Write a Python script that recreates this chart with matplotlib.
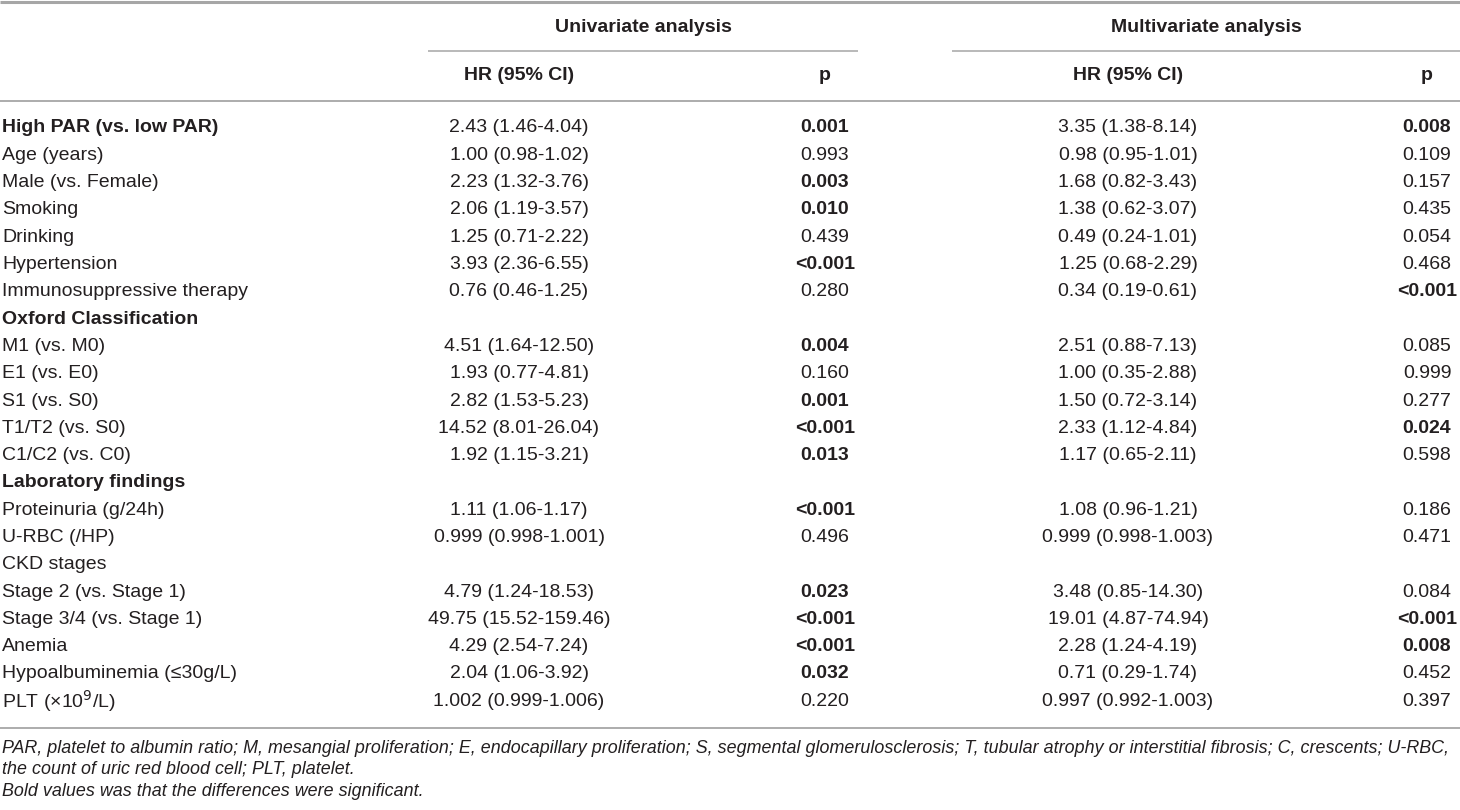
import matplotlib
matplotlib.use("Agg")
import matplotlib.pyplot as plt

plt.rcParams['font.family'] = ['Liberation Sans Narrow', 'Liberation Sans', 'DejaVu Sans']
plt.rcParams['mathtext.fontset'] = 'custom'
plt.rcParams['mathtext.rm'] = 'Liberation Sans Narrow'
plt.rcParams['mathtext.it'] = 'Liberation Sans Narrow:italic'

# table content
labels = [
    "High PAR (vs. low PAR)", "Age (years)", "Male (vs. Female)", "Smoking", "Drinking",
    "Hypertension", "Immunosuppressive therapy", "Oxford Classification",
    "M1 (vs. M0)", "E1 (vs. E0)", "S1 (vs. S0)", "T1/T2 (vs. S0)", "C1/C2 (vs. C0)",
    "Laboratory findings", "Proteinuria (g/24h)", "U-RBC (/HP)", "CKD stages",
    "Stage 2 (vs. Stage 1)", "Stage 3/4 (vs. Stage 1)", "Anemia",
    "Hypoalbuminemia (≤30g/L)", "PLT (×10$^{9}$/L)",
]
bold_labels = {"High PAR (vs. low PAR)", "Oxford Classification", "Laboratory findings"}

uni_hr = [
    "2.43 (1.46-4.04)", "1.00 (0.98-1.02)", "2.23 (1.32-3.76)", "2.06 (1.19-3.57)",
    "1.25 (0.71-2.22)", "3.93 (2.36-6.55)", "0.76 (0.46-1.25)", "",
    "4.51 (1.64-12.50)", "1.93 (0.77-4.81)", "2.82 (1.53-5.23)", "14.52 (8.01-26.04)",
    "1.92 (1.15-3.21)", "", "1.11 (1.06-1.17)", "0.999 (0.998-1.001)", "",
    "4.79 (1.24-18.53)", "49.75 (15.52-159.46)", "4.29 (2.54-7.24)",
    "2.04 (1.06-3.92)", "1.002 (0.999-1.006)",
]
uni_p = [
    "0.001", "0.993", "0.003", "0.010", "0.439", "<0.001", "0.280", "",
    "0.004", "0.160", "0.001", "<0.001", "0.013", "", "<0.001", "0.496", "",
    "0.023", "<0.001", "<0.001", "0.032", "0.220",
]
uni_sig = [1, 0, 1, 1, 0, 1, 0, 0, 1, 0, 1, 1, 1, 0, 1, 0, 0, 1, 1, 1, 1, 0]

multi_hr = [
    "3.35 (1.38-8.14)", "0.98 (0.95-1.01)", "1.68 (0.82-3.43)", "1.38 (0.62-3.07)",
    "0.49 (0.24-1.01)", "1.25 (0.68-2.29)", "0.34 (0.19-0.61)", "",
    "2.51 (0.88-7.13)", "1.00 (0.35-2.88)", "1.50 (0.72-3.14)", "2.33 (1.12-4.84)",
    "1.17 (0.65-2.11)", "", "1.08 (0.96-1.21)", "0.999 (0.998-1.003)", "",
    "3.48 (0.85-14.30)", "19.01 (4.87-74.94)", "2.28 (1.24-4.19)",
    "0.71 (0.29-1.74)", "0.997 (0.992-1.003)",
]
multi_p = [
    "0.008", "0.109", "0.157", "0.435", "0.054", "0.468", "<0.001", "",
    "0.085", "0.999", "0.277", "0.024", "0.598", "", "0.186", "0.471", "",
    "0.084", "<0.001", "0.008", "0.452", "0.397",
]
multi_sig = [1, 0, 0, 0, 0, 0, 1, 0, 0, 0, 0, 1, 0, 0, 0, 0, 0, 0, 1, 1, 0, 0]

footnotes = [
    "PAR, platelet to albumin ratio; M, mesangial proliferation; E, endocapillary proliferation; "
    "S, segmental glomerulosclerosis; T, tubular atrophy or interstitial fibrosis; C, crescents; U-RBC,",
    "the count of uric red blood cell; PLT, platelet.",
    "Bold values was that the differences were significant.",
]

W, H = 1460, 810
fig = plt.figure(figsize=(W / 100, H / 100), dpi=100)
ax = fig.add_axes([0, 0, 1, 1])
ax.set_xlim(0, W)
ax.set_ylim(H, 0)
ax.axis('off')

txt = '#231f20'
line_col = '#a6a6a6'
fs = 14
fs_note = 12.85

x_label = 2
x_uhr, x_up = 519, 825
x_mhr, x_mp = 1128, 1427

# rules
ax.plot([0, W], [1.5, 1.5], color=line_col, lw=2.2, solid_capstyle='butt')
ax.plot([428, 858], [51, 51], color=line_col, lw=1.1, solid_capstyle='butt')
ax.plot([952, W], [51, 51], color=line_col, lw=1.1, solid_capstyle='butt')
ax.plot([0, W], [101, 101], color=line_col, lw=1.3, solid_capstyle='butt')

# headers
ax.text(643, 27, "Univariate analysis", ha='center', va='center', fontsize=fs, fontweight='bold', color=txt)
ax.text(1206, 27, "Multivariate analysis", ha='center', va='center', fontsize=fs, fontweight='bold', color=txt)
for x, s in [(x_uhr, "HR (95% CI)"), (x_up, "p"), (x_mhr, "HR (95% CI)"), (x_mp, "p")]:
    ax.text(x, 76, s, ha='center', va='center', fontsize=fs, fontweight='bold', color=txt)

# body
y0, dy = 128, 27.3
for i, lab in enumerate(labels):
    y = y0 + i * dy
    ax.text(x_label, y, lab, ha='left', va='center', fontsize=fs, color=txt,
            fontweight='bold' if lab in bold_labels else 'normal')
    ax.text(x_uhr, y, uni_hr[i], ha='center', va='center', fontsize=fs, color=txt)
    ax.text(x_up, y, uni_p[i], ha='center', va='center', fontsize=fs, color=txt,
            fontweight='bold' if uni_sig[i] else 'normal')
    ax.text(x_mhr, y, multi_hr[i], ha='center', va='center', fontsize=fs, color=txt)
    ax.text(x_mp, y, multi_p[i], ha='center', va='center', fontsize=fs, color=txt,
            fontweight='bold' if multi_sig[i] else 'normal')

y_end = y0 + (len(labels) - 1) * dy
ax.plot([0, W], [y_end + 27, y_end + 27], color=line_col, lw=1.3, solid_capstyle='butt')

for j, note in enumerate(footnotes):
    ax.text(x_label, y_end + 47 + j * 21.5, note, ha='left', va='center', fontsize=fs_note,
            style='italic', color=txt)

fig.savefig('out.png', dpi=100)
plt.close(fig)
